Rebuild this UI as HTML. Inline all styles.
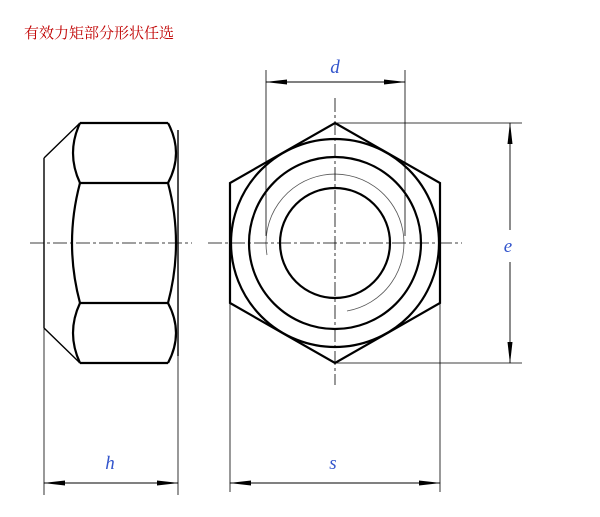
<!DOCTYPE html>
<html><head><style>body{margin:0;background:#fff}</style></head><body>
<svg width="600" height="517" xmlns="http://www.w3.org/2000/svg" style="display:block">
<defs><marker id="a" markerWidth="22" markerHeight="8" refX="21" refY="4" orient="auto" markerUnits="userSpaceOnUse"><path d="M0,1.5 L22,4 L0,6.5 Z" fill="#000"/></marker></defs>
<text x="24" y="38" font-family="'Liberation Serif','Noto Serif CJK SC',serif" font-size="15" fill="#c00000">有效力矩部分形状任选</text>
<g stroke="#000" fill="none">
<!-- left view -->
<g stroke-width="2.2">
<path d="M80,123 H168 M80,183 H168 M80,303 H168 M80,363 H168"/>
<path d="M80,123 Q66,153 80,183 M168,123 Q184,153 168,183 M80,303 Q66,333 80,363 M168,303 Q184,333 168,363"/>
<path d="M80,183 Q64,243 80,303 M168,183 Q184,243 168,303"/>
</g>
<path stroke-width="1.4" d="M44,158 V328 M44,158 L80,123 M44,328 L80,363 M178,130 V356"/>
<path stroke-width="0.8" d="M44,328 V495 M178,356 V495"/>
<path stroke-width="0.8" stroke-dasharray="14,3,3,3" d="M30,243 H192"/>
<!-- front view -->
<path stroke-width="2.2" d="M335,123 L440,183 V303 L335,363 L230,303 V183 Z"/>
<circle cx="335" cy="243" r="104" stroke-width="2.2"/>
<circle cx="335" cy="243" r="86" stroke-width="2.2"/>
<circle cx="335" cy="243" r="55" stroke-width="2.2"/>
<path stroke-width="0.8" stroke="#555" d="M267,255 A69,69 0 1 1 347,311"/>
<path stroke-width="0.8" stroke-dasharray="14,3,3,3" d="M208,243 H462 M335,98 V385"/>
<path stroke-width="0.8" d="M266,70 V236 M405,70 V236 M335,123 H522 M335,363 H522 M230,303 V492 M440,303 V492"/>
<!-- dims -->
<path stroke-width="0.9" d="M335,82 H266" marker-end="url(#a)"/>
<path stroke-width="0.9" d="M335,82 H405" marker-end="url(#a)"/>
<path stroke-width="0.9" d="M510,230 V123" marker-end="url(#a)"/>
<path stroke-width="0.9" d="M510,262 V363" marker-end="url(#a)"/>
<path stroke-width="0.9" d="M335,483 H230" marker-end="url(#a)"/>
<path stroke-width="0.9" d="M335,483 H440" marker-end="url(#a)"/>
<path stroke-width="0.9" d="M111,483 H44" marker-end="url(#a)"/>
<path stroke-width="0.9" d="M111,483 H178" marker-end="url(#a)"/>
</g>
<g font-family="'Liberation Serif',serif" font-style="italic" font-size="19" fill="#3355cc" text-anchor="middle">
<text x="335" y="73">d</text><text x="508" y="252">e</text><text x="333" y="469">s</text><text x="110" y="469">h</text>
</g>
</svg>
</body></html>
